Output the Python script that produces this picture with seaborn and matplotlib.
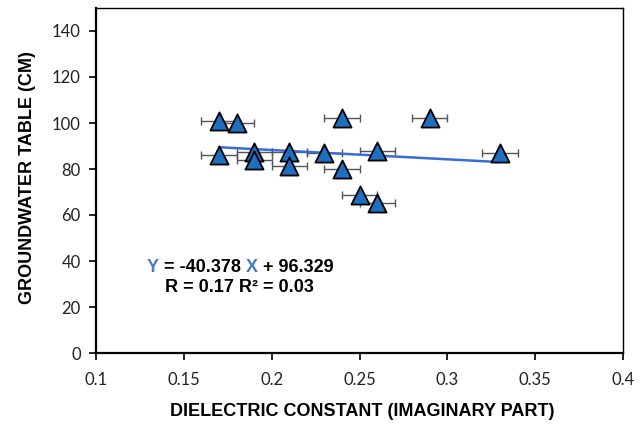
import matplotlib
matplotlib.use("Agg")
import matplotlib.pyplot as plt
import seaborn as sns
import numpy as np
import pandas as pd

# Data
dielectric = [0.17, 0.17, 0.18, 0.19, 0.19, 0.21, 0.21, 0.23, 0.24, 0.24, 0.25, 0.26, 0.26, 0.29, 0.33]
groundwater = [101, 86, 100, 87.5, 84, 87.5, 81.5, 87, 102, 80, 68.5, 88, 65.4, 102, 87]
x_error = [0.01] * len(dielectric)
slope = -40.378
intercept = 96.329
x_ticks = [0.1, 0.15, 0.2, 0.25, 0.3, 0.35, 0.4]
y_ticks = [0, 20, 40, 60, 80, 100, 120, 140]

df = pd.DataFrame({"x": dielectric, "y": groundwater, "xerr": x_error})

sns.set_style("white")
plt.rcParams["font.family"] = ["Liberation Sans", "DejaVu Sans"]

W, H = 643, 429
fig = plt.figure(figsize=(W / 100, H / 100), dpi=100)
ax = fig.add_axes([96 / W, (H - 353) / H, (623 - 96) / W, (353 - 8) / H])

# error bars
ax.errorbar(df["x"], df["y"], xerr=df["xerr"], fmt="none", ecolor="#555555",
            elinewidth=1.0, capsize=3, capthick=1.0, zorder=2)

# regression line
xl = np.array([min(dielectric), max(dielectric)])
ax.plot(xl, slope * xl + intercept, color="#3a6bd6", lw=1.8, zorder=3)

# points
sns.scatterplot(data=df, x="x", y="y", marker="^", s=170, color="#1f6fc0",
                edgecolor="black", linewidth=1.3, ax=ax, zorder=4, legend=False)

ax.set_xlim(0.1, 0.4)
ax.set_ylim(0, 150)
ax.set_xticks(x_ticks)
ax.set_xticklabels([f"{t:g}" for t in x_ticks])
ax.set_yticks(y_ticks)
ax.set_yticklabels([str(t) for t in y_ticks])
for sp in ax.spines.values():
    sp.set_visible(True)
    sp.set_color("black")
    sp.set_linewidth(1.0)
ax.spines["left"].set_linewidth(1.6)
ax.spines["bottom"].set_linewidth(1.6)
ax.tick_params(axis="both", which="both", direction="out", length=5, width=1.2,
               color="black", top=False, right=False, bottom=True, left=True,
               labelsize=12, pad=6)
for lab in ax.get_xticklabels() + ax.get_yticklabels():
    lab.set_fontfamily(["Lato", "DejaVu Sans"])
    lab.set_color("#222222")
ax.tick_params(axis="x", pad=9)

ax.set_xlabel("")
ax.set_ylabel("")
fig.text(362 / W, 1 - 412 / H, "DIELECTRIC CONSTANT (IMAGINARY PART)", ha="center",
         va="center", fontsize=13, fontweight="bold", color="black")
fig.text(28 / W, 1 - 178 / H, "GROUNDWATER TABLE (CM)", ha="center", va="center",
         rotation=90, fontsize=13, fontweight="bold", color="black")

# equation with coloured letters
fig.canvas.draw()
renderer = fig.canvas.get_renderer()
parts = [("Y", "#4a78c8"), (f" = {slope:.3f} ", "black"), ("X", "#4a78c8"),
         (f" + {intercept:.3f}", "black")]
xpos = 147
for txt, col in parts:
    t = fig.text(xpos / W, 1 - 267 / H, txt, ha="left", va="center", fontsize=13,
                 fontweight="bold", color=col)
    bb = t.get_window_extent(renderer)
    xpos += bb.width
fig.text(165 / W, 1 - 288 / H, "R = 0.17 R² = 0.03", ha="left", va="center",
         fontsize=13, fontweight="bold", color="black")

fig.savefig("out.png", dpi=100, facecolor="white")
